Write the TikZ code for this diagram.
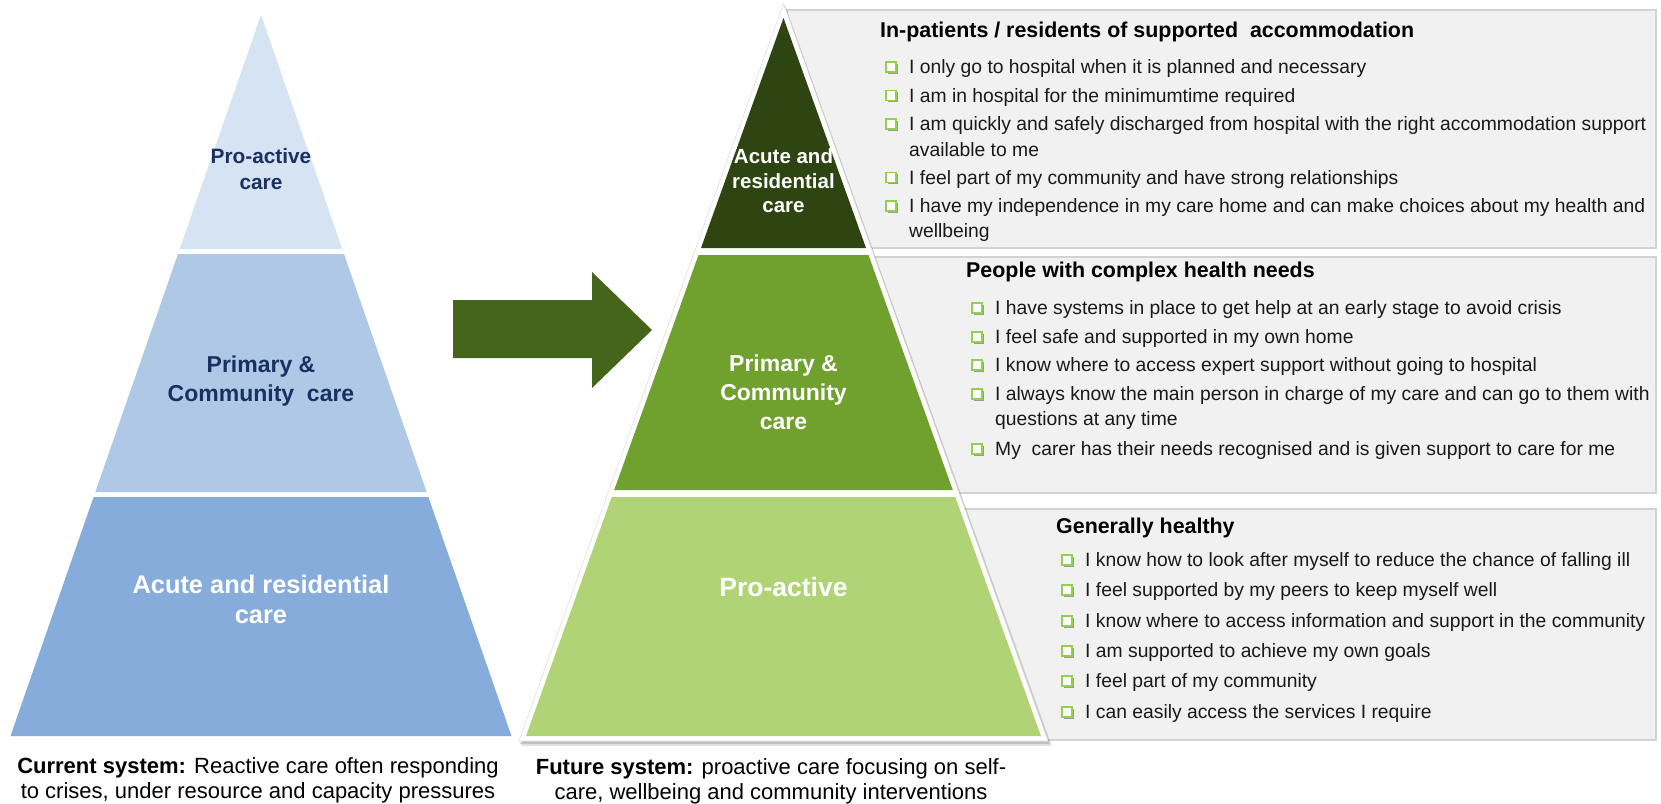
\documentclass[tikz,border=0pt]{standalone}
\usepackage{fontspec}
\setmainfont{Liberation Sans}
\definecolor{lbA}{RGB}{214,227,242}
\definecolor{lbB}{RGB}{174,200,230}
\definecolor{lbC}{RGB}{133,172,218}
\definecolor{navytext}{RGB}{25,48,96}
\definecolor{gA}{RGB}{47,69,17}
\definecolor{gB}{RGB}{112,160,46}
\definecolor{gC}{RGB}{176,212,117}
\definecolor{arrowg}{RGB}{68,101,26}
\definecolor{panelfill}{RGB}{241,241,241}
\definecolor{panelline}{RGB}{210,210,210}
\definecolor{bulletg}{RGB}{146,208,80}
\newcommand\bul[3]{%
  \fill[black!40] ($(#2,#3)+(1.6,1.6)+(-5,-5)$) rectangle ++(10,10);
  \node[blt] (#1) at (#2,#3) {};}
\usetikzlibrary{calc}
\begin{document}
\begin{tikzpicture}[x=1pt,y=-1pt,
  panel/.style={fill=panelfill,draw=panelline,line width=2.2pt},
  blt/.style={draw=bulletg,fill=white,line width=1.9pt,minimum size=10pt,inner sep=0pt},
  itm/.style={anchor=base west,inner sep=0pt,text=black!90,font=\fontsize{19.3}{23}\selectfont},
  hdr/.style={anchor=base west,inner sep=0pt,text=black,font=\fontsize{21.4}{25}\selectfont\bfseries},
  lbl/.style={anchor=base,inner sep=0pt},
  caption/.style={anchor=base,inner sep=0pt,text=black,font=\fontsize{22}{25}\selectfont},
]
\useasboundingbox (0,0) rectangle (1661,803);
\fill[white] (0,0) rectangle (1661,803);

% ---------- panels ----------
\draw[panel] (787,10) rectangle (1656,248);
\draw[panel] (787,257) rectangle (1656,493);
\draw[panel] (787,509) rectangle (1656,740);

% ---------- left pyramid ----------
\fill[lbA] (261,15) -- (342.3,249) -- (179.7,249) -- cycle;
\fill[lbB] (178,254) -- (344,254) -- (426.7,492) -- (95.3,492) -- cycle;
\fill[lbC] (93.6,497) -- (428.4,497) -- (511.5,736) -- (10.5,736) -- cycle;

\node[lbl,text=navytext,font=\fontsize{20.8}{25}\selectfont\bfseries] (lpa1) at (261,163.5) {Pro-active};
\node[lbl,text=navytext,font=\fontsize{20.8}{25}\selectfont\bfseries] (lpa2) at (261,189.5) {care};
\node[lbl,text=navytext,font=\fontsize{23}{27}\selectfont\bfseries] (lpc1) at (261,372) {Primary \&};
\node[lbl,text=navytext,font=\fontsize{23}{27}\selectfont\bfseries] (lpc2) at (261,401) {Community\ \ care};
\node[lbl,text=white,font=\fontsize{25.4}{30}\selectfont\bfseries] (lac1) at (261,593) {Acute and residential};
\node[lbl,text=white,font=\fontsize{25.4}{30}\selectfont\bfseries] (lac2) at (261,623) {care};

% ---------- arrow ----------
\fill[arrowg] (453,300) -- (592,300) -- (592,272) -- (652,330) -- (592,388) -- (592,358) -- (453,358) -- cycle;

% ---------- right pyramid ----------
\fill[black,opacity=.10] (785,6) -- (1052,746) -- (521,746) -- cycle;
\fill[black,opacity=.15] (785,5) -- (1050,744) -- (520,744) -- cycle;
\fill[white,draw=black!12,line width=0.6pt] (783.5,3.5) -- (1048,741) -- (519,741) -- cycle;
\fill[gA] (783.5,18) -- (866,248) -- (701,248) -- cycle;
\fill[gB] (698.5,255) -- (868.5,255) -- (952.8,490) -- (614.2,490) -- cycle;
\fill[gC] (611.7,497) -- (955.3,497) -- (1041,736) -- (526,736) -- cycle;

\node[lbl,text=white,font=\fontsize{20.5}{24}\selectfont\bfseries] (rac1) at (783.5,163) {Acute and};
\node[lbl,text=white,font=\fontsize{20.5}{24}\selectfont\bfseries] (rac2) at (783.5,188) {residential};
\node[lbl,text=white,font=\fontsize{20.5}{24}\selectfont\bfseries] (rac3) at (783.5,212) {care};
\node[lbl,text=white,font=\fontsize{23}{27}\selectfont\bfseries] (rpc1) at (783.5,371) {Primary \&};
\node[lbl,text=white,font=\fontsize{23}{27}\selectfont\bfseries] (rpc2) at (783.5,400) {Community};
\node[lbl,text=white,font=\fontsize{23}{27}\selectfont\bfseries] (rpc3) at (783.5,429) {care};
\node[lbl,text=white,font=\fontsize{26.5}{30}\selectfont\bfseries] (rpa) at (783.5,596) {Pro-active};

% ---------- panel 1 ----------
\node[hdr] (h1) at (880,37.5) {In-patients / residents of supported\ \ accommodation};
\bul{b11}{891}{67}
\node[itm] (t11) at (909,73.5) {I only go to hospital when it is planned and necessary};
\bul{b12}{891}{95.5}
\node[itm] (t12) at (909,102) {I am in hospital for the minimumtime required};
\bul{b13}{891}{124}
\node[itm] (t13) at (909,130.5) {I am quickly and safely discharged from hospital with the right accommodation support};
\node[itm] (t13b) at (909,156) {available to me};
\bul{b14}{891}{177.5}
\node[itm] (t14) at (909,184) {I feel part of my community and have strong relationships};
\bul{b15}{891}{206}
\node[itm] (t15) at (909,212.5) {I have my independence in my care home and can make choices about my health and};
\node[itm] (t15b) at (909,237.5) {wellbeing};

% ---------- panel 2 ----------
\node[hdr] (h2) at (966,277.5) {People with complex health needs};
\bul{b21}{977}{308}
\node[itm] (t21) at (995,314.5) {I have systems in place to get help at an early stage to avoid crisis};
\bul{b22}{977}{337}
\node[itm] (t22) at (995,343.5) {I feel safe and supported in my own home};
\bul{b23}{977}{365}
\node[itm] (t23) at (995,371.5) {I know where to access expert support without going to hospital};
\bul{b24}{977}{394}
\node[itm] (t24) at (995,400.5) {I always know the main person in charge of my care and can go to them with};
\node[itm] (t24b) at (995,425.5) {questions at any time};
\bul{b25}{977}{449}
\node[itm] (t25) at (995,455.5) {My\ \ carer has their needs recognised and is given support to care for me};

% ---------- panel 3 ----------
\node[hdr] (h3) at (1056,533.5) {Generally healthy};
\bul{b31}{1067}{560}
\node[itm] (t31) at (1085,566.5) {I know how to look after myself to reduce the chance of falling ill};
\bul{b32}{1067}{590}
\node[itm] (t32) at (1085,596.5) {I feel supported by my peers to keep myself well};
\bul{b33}{1067}{621}
\node[itm] (t33) at (1085,627.5) {I know where to access information and support in the community};
\bul{b34}{1067}{651}
\node[itm] (t34) at (1085,657.5) {I am supported to achieve my own goals};
\bul{b35}{1067}{681}
\node[itm] (t35) at (1085,687.5) {I feel part of my community};
\bul{b36}{1067}{712}
\node[itm] (t36) at (1085,718.5) {I can easily access the services I require};

% ---------- captions ----------
\node[caption] (cur1) at (258,773) {\textbf{Current system:} Reactive care often responding};
\node[caption] (cur2) at (258,798) {to crises, under resource and capacity pressures};
\node[caption] (fut1) at (771,774) {\textbf{Future system:} proactive care focusing on self-};
\node[caption] (fut2) at (771,799) {care, wellbeing and community interventions};
\end{tikzpicture}
\end{document}
